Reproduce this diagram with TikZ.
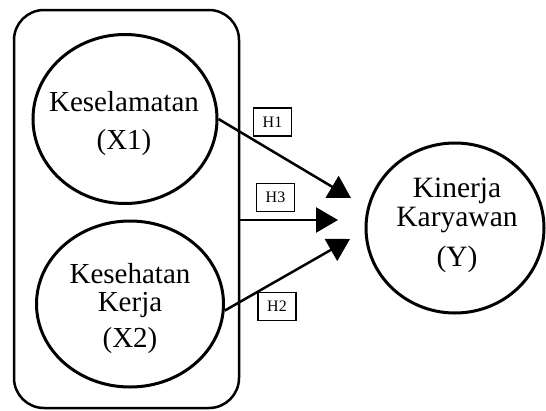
\documentclass[tikz,border=0pt]{standalone}
\usepackage{fontspec}
\setmainfont{Liberation Serif}
\usetikzlibrary{shapes.geometric,arrows.meta}
\tikzset{
  var/.style={ellipse, draw, line width=3pt, inner sep=0pt},
  vtext/.style={align=center, inner sep=0pt},
  hbox/.style={draw, line width=1.1pt, minimum width=38pt, minimum height=28pt, inner sep=0pt, font=\fontsize{16}{18}\selectfont},
  path/.style={line width=2.5pt, -{Triangle[length=22pt,width=25pt]}},
  frame/.style={draw, line width=2.5pt, rounded corners=30pt}
}
\begin{document}
\begin{tikzpicture}[x=1pt,y=-1pt]
\useasboundingbox (0,0) rectangle (546,410);
\fill[white] (0,0) rectangle (546,410);
% grouping frame
\node[frame, minimum width=225pt, minimum height=398pt] (box) at (126.5,209) {};
% variables
\node[var, minimum width=184pt, minimum height=169pt] (X1) at (125,119) {};
\node[var, minimum width=187pt, minimum height=166pt] (X2) at (130,304) {};
\node[var, minimum width=178pt, minimum height=170pt] (Y) at (455,228) {};
% texts
\node[vtext, font=\fontsize{29}{38}\selectfont] (X1t) at (124,124) {Keselamatan\\(X1)};
\node[vtext, font=\fontsize{29}{28}\selectfont] (X2t) at (130,309) {Kesehatan\\Kerja\\[8pt](X2)};
\node[vtext, font=\fontsize{29.5}{29}\selectfont] (Yt) at (457,225) {Kinerja\\Karyawan\\[11pt](Y)};
% arrow tips
\coordinate (t1) at (351,198);
\coordinate (t3) at (338,220);
\coordinate (t2) at (350,239);
% connectors
\draw[path] (X1.east) -- (t1);
\draw[path] (box.east |- t3) -- (t3);
\draw[path] (X2.-4) -- (t2);
% hypothesis labels
\node[hbox] (H1) at (272.5,122) {H1};
\node[hbox] (H3) at (275.5,197.5) {H3};
\node[hbox] (H2) at (277,306.5) {H2};
\end{tikzpicture}
\end{document}
